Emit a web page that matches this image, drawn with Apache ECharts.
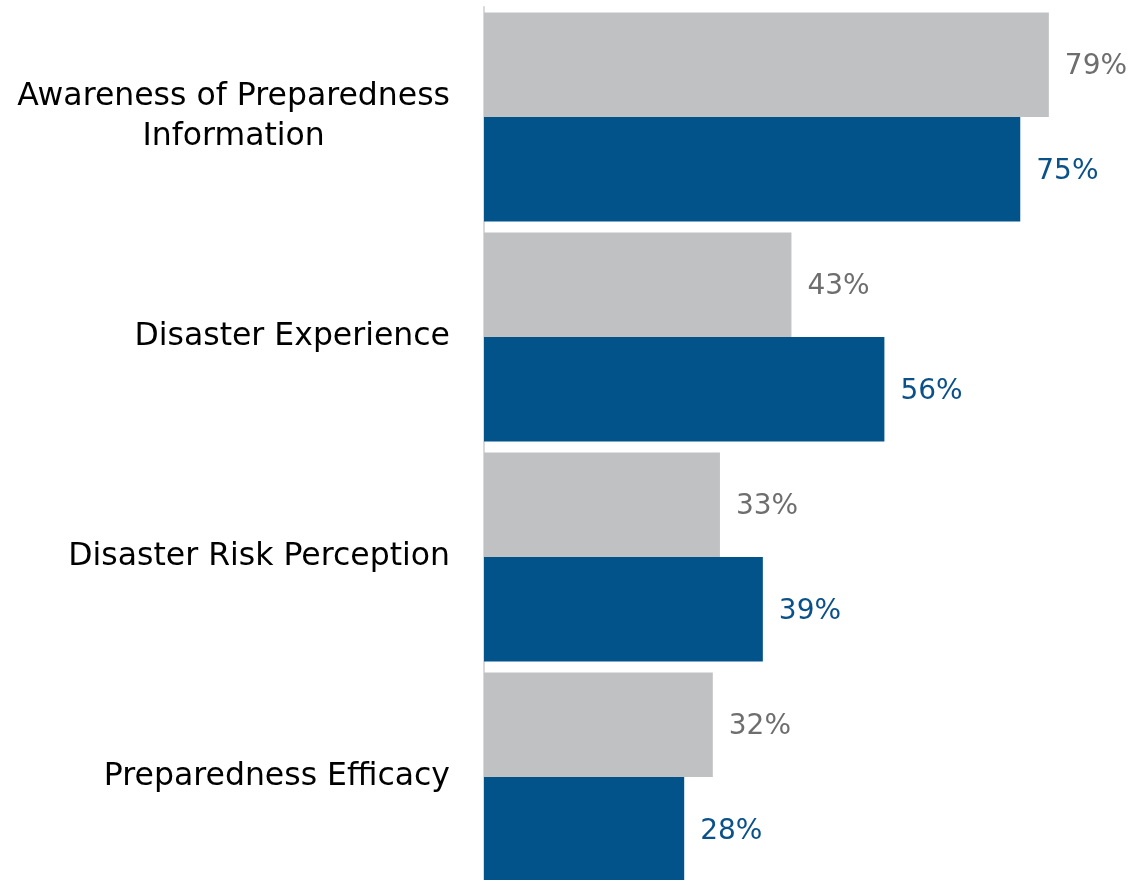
<!DOCTYPE html>
<html>
<head>
<meta charset="utf-8">
<script src="https://cdn.jsdelivr.net/npm/echarts@6/dist/echarts.min.js"></script>
<style>
html,body{margin:0;padding:0;background:#fff;}
#c{width:1130px;height:880px;}
</style>
</head>
<body>
<div id="c"></div>
<script>
const categories = ["Awareness of Preparedness\nInformation", "Disaster Experience", "Disaster Risk Perception", "Preparedness Efficacy"];
const grayValues = [79, 43, 33, 32];
const blueValues = [75, 56, 39, 28];

const FONT = "'DejaVu Sans', sans-serif";
const chart = echarts.init(document.getElementById('c'), null, {renderer: 'canvas'});
chart.setOption({
  animation: false,
  backgroundColor: '#ffffff',
  grid: {left: 484, top: 7, width: 643.5, height: 880, containLabel: false, outerBoundsMode: 'none'},
  xAxis: {
    type: 'value', min: 0, max: 90,
    show: false
  },
  yAxis: {
    type: 'category', data: categories, inverse: true,
    axisLine: {show: true, lineStyle: {color: '#d9d9d9', width: 2}},
    axisTick: {show: false},
    axisLabel: {
      margin: 34, fontSize: 31.5, color: '#000000', fontFamily: FONT,
      lineHeight: 40, align: 'right',
      formatter: function (v) {
        return v.split('\n').map(function (s) { return '{c|' + s + '}'; }).join('\n');
      },
      rich: {
        c: {align: 'center', fontSize: 31.5, lineHeight: 40, color: '#000000', fontFamily: FONT}
      }
    },
    splitLine: {show: false}
  },
  series: [
    {
      type: 'bar', data: grayValues, barGap: '0%', barCategoryGap: '5%',
      itemStyle: {color: '#c0c1c3'},
      label: {show: true, position: 'right', distance: 16, offset: [0, 2], formatter: '{c}%',
        fontSize: 28, color: '#6e6e6e', fontFamily: FONT}
    },
    {
      type: 'bar', data: blueValues, barGap: '0%', barCategoryGap: '5%',
      itemStyle: {color: '#02538a'},
      label: {show: true, position: 'right', distance: 16, offset: [0, 2], formatter: '{c}%',
        fontSize: 28, color: '#0b5189', fontFamily: FONT}
    }
  ]
});
</script>
</body>
</html>
